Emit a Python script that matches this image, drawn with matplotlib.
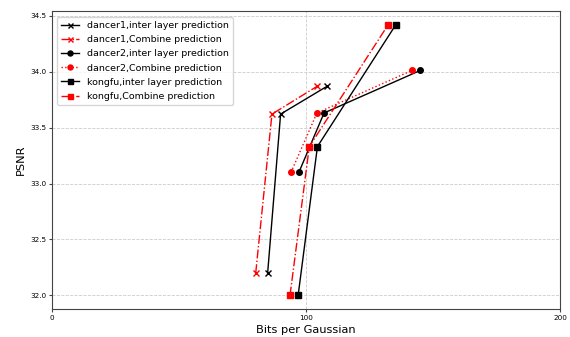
import matplotlib
matplotlib.use('Agg')
import matplotlib.pyplot as plt

# bits per gaussian / PSNR for each sequence
dancer1_inter_x = [84.9, 90.0, 108.4]
dancer1_inter_y = [32.20, 33.62, 33.87]
dancer1_comb_x = [80.2, 86.6, 104.5]
dancer1_comb_y = [32.20, 33.62, 33.87]

dancer2_inter_x = [97.2, 107.1, 145.0]
dancer2_inter_y = [33.10, 33.63, 34.01]
dancer2_comb_x = [94.1, 104.3, 141.7]
dancer2_comb_y = [33.10, 33.63, 34.01]

kongfu_inter_x = [96.9, 104.5, 135.4]
kongfu_inter_y = [32.00, 33.33, 34.42]
kongfu_comb_x = [93.7, 101.3, 132.4]
kongfu_comb_y = [32.00, 33.33, 34.42]

fig = plt.figure(figsize=(5.7, 3.37), dpi=100, facecolor='w')
ax = fig.add_axes([52/570, 1 - 309/337, 508/570, 298/337])

ms = 4
lw = 1
ax.plot(dancer1_inter_x, dancer1_inter_y, 'k-', marker='x', ms=ms, lw=lw, label='dancer1,inter layer prediction')
ax.plot(dancer1_comb_x, dancer1_comb_y, 'r-.', marker='x', ms=ms, lw=lw, label='dancer1,Combine prediction')
ax.plot(dancer2_inter_x, dancer2_inter_y, 'k-', marker='o', ms=ms, lw=lw, label='dancer2,inter layer prediction')
ax.plot(dancer2_comb_x, dancer2_comb_y, 'r:', marker='o', ms=ms, lw=lw, label='dancer2,Combine prediction')
ax.plot(kongfu_inter_x, kongfu_inter_y, 'k-', marker='s', ms=ms, lw=lw, label='kongfu,inter layer prediction')
ax.plot(kongfu_comb_x, kongfu_comb_y, 'r-.', marker='s', ms=ms, lw=lw, label='kongfu,Combine prediction')

ax.set_xlim(0, 200)
ax.set_xticks([0, 100, 200])
ax.set_yticks([32.0, 32.5, 33.0, 33.5, 34.0, 34.5])
ax.tick_params(labelsize=5.2, length=2.5, pad=1.5, color='#444444')
for sp in ax.spines.values():
    sp.set_color('#444444')
ax.set_xlabel('Bits per Gaussian', fontsize=8.2, labelpad=3.5)
ax.set_ylabel('PSNR', fontsize=8.2, labelpad=3)
ax.grid(True, linestyle='--', color='#cccccc', lw=0.6)
ax.legend(loc='upper left', fontsize=6.8, handlelength=2.0, markerscale=0.9,
          labelspacing=0.55, bbox_to_anchor=(0, 0.995))

fig.savefig('out.png', dpi=100)
